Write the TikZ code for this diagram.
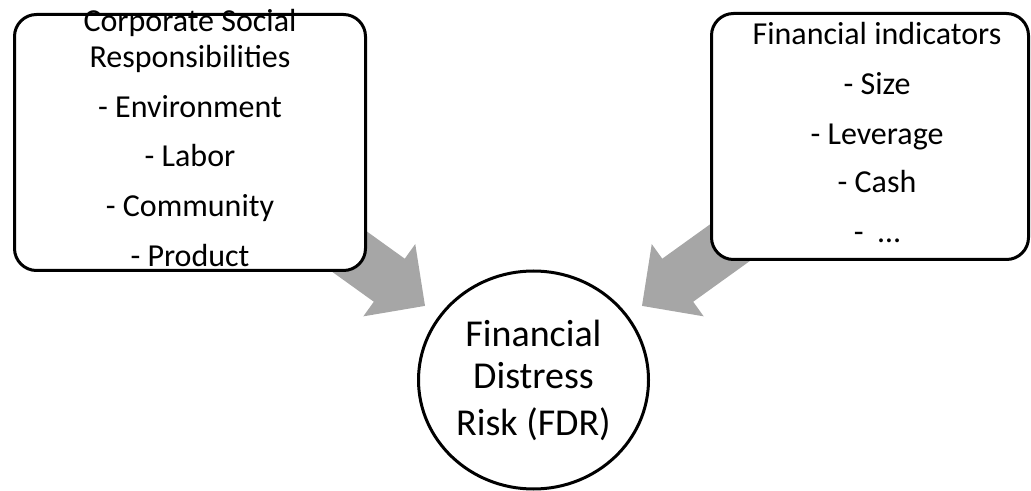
\documentclass[tikz,border=0pt]{standalone}
\usepackage{fontspec}
\setmainfont{Carlito}
\usetikzlibrary{shapes.geometric}
\definecolor{arrowgray}{HTML}{A6A6A6}
\begin{document}
\begin{tikzpicture}[x=0.75pt,y=-0.75pt,
  box/.style={draw=black, line width=2.25pt, rounded corners=16.5pt, fill=white, inner sep=0pt},
  blockarrow/.style={fill=arrowgray, draw=none},
  boxtext/.style={anchor=base, font=\fontsize{24}{28}\selectfont, inner sep=0pt},
  circtext/.style={anchor=base, font=\fontsize{28.5}{34}\selectfont, inner sep=0pt}]
\useasboundingbox (0,0) rectangle (1031,491);
% tails of the block arrows (hidden behind the boxes)
\coordinate (tailL) at (316.2,227.7);
\coordinate (tailR) at (750.8,227.7);
% block arrows (behind boxes)
\begin{scope}[shift={(tailL)}, rotate=-35.7]
  \fill[blockarrow] (0,26.5) -- (90,26.5) -- (90,44.5) -- (134,0) -- (90,-44.5) -- (90,-26.5) -- (0,-26.5) -- cycle;
\end{scope}
\begin{scope}[shift={(tailR)}, rotate=-144.3]
  \fill[blockarrow] (0,26.5) -- (90,26.5) -- (90,44.5) -- (134,0) -- (90,-44.5) -- (90,-26.5) -- (0,-26.5) -- cycle;
\end{scope}
% boxes
\node[box, minimum width=263.25pt, minimum height=192pt] (csr) at (190,142.5) {};
\node[box, minimum width=237.75pt, minimum height=184.5pt] (fin) at (870,136.5) {};
\node[draw=black, ellipse, line width=2.25pt, fill=white, minimum width=172.5pt, minimum height=163.5pt, inner sep=0pt] (fdr) at (533.5,380) {};
% left texts
\node[boxtext] (l1) at (190,32) {Corporate Social};
\node[boxtext] (l2) at (190,68) {Responsibilities};
\node[boxtext] (l3) at (190,118) {- Environment};
\node[boxtext] (l4) at (190,167) {- Labor};
\node[boxtext] (l5) at (190,217) {- Community};
\node[boxtext] (l6) at (190,267) {- Product};
% right texts
\node[boxtext] (r1) at (877,45) {Financial indicators};
\node[boxtext] (r2) at (877,95) {- Size};
\node[boxtext] (r3) at (877,145) {- Leverage};
\node[boxtext] (r4) at (877,193) {- Cash};
\node[boxtext] (r5) at (877,243) {-\ \ …};
% circle texts
\node[circtext] (c1) at (533.5,347) {Financial};
\node[circtext] (c2) at (533.5,388) {Distress};
\node[circtext] (c3) at (533.5,435) {Risk (FDR)};
\end{tikzpicture}
\end{document}
